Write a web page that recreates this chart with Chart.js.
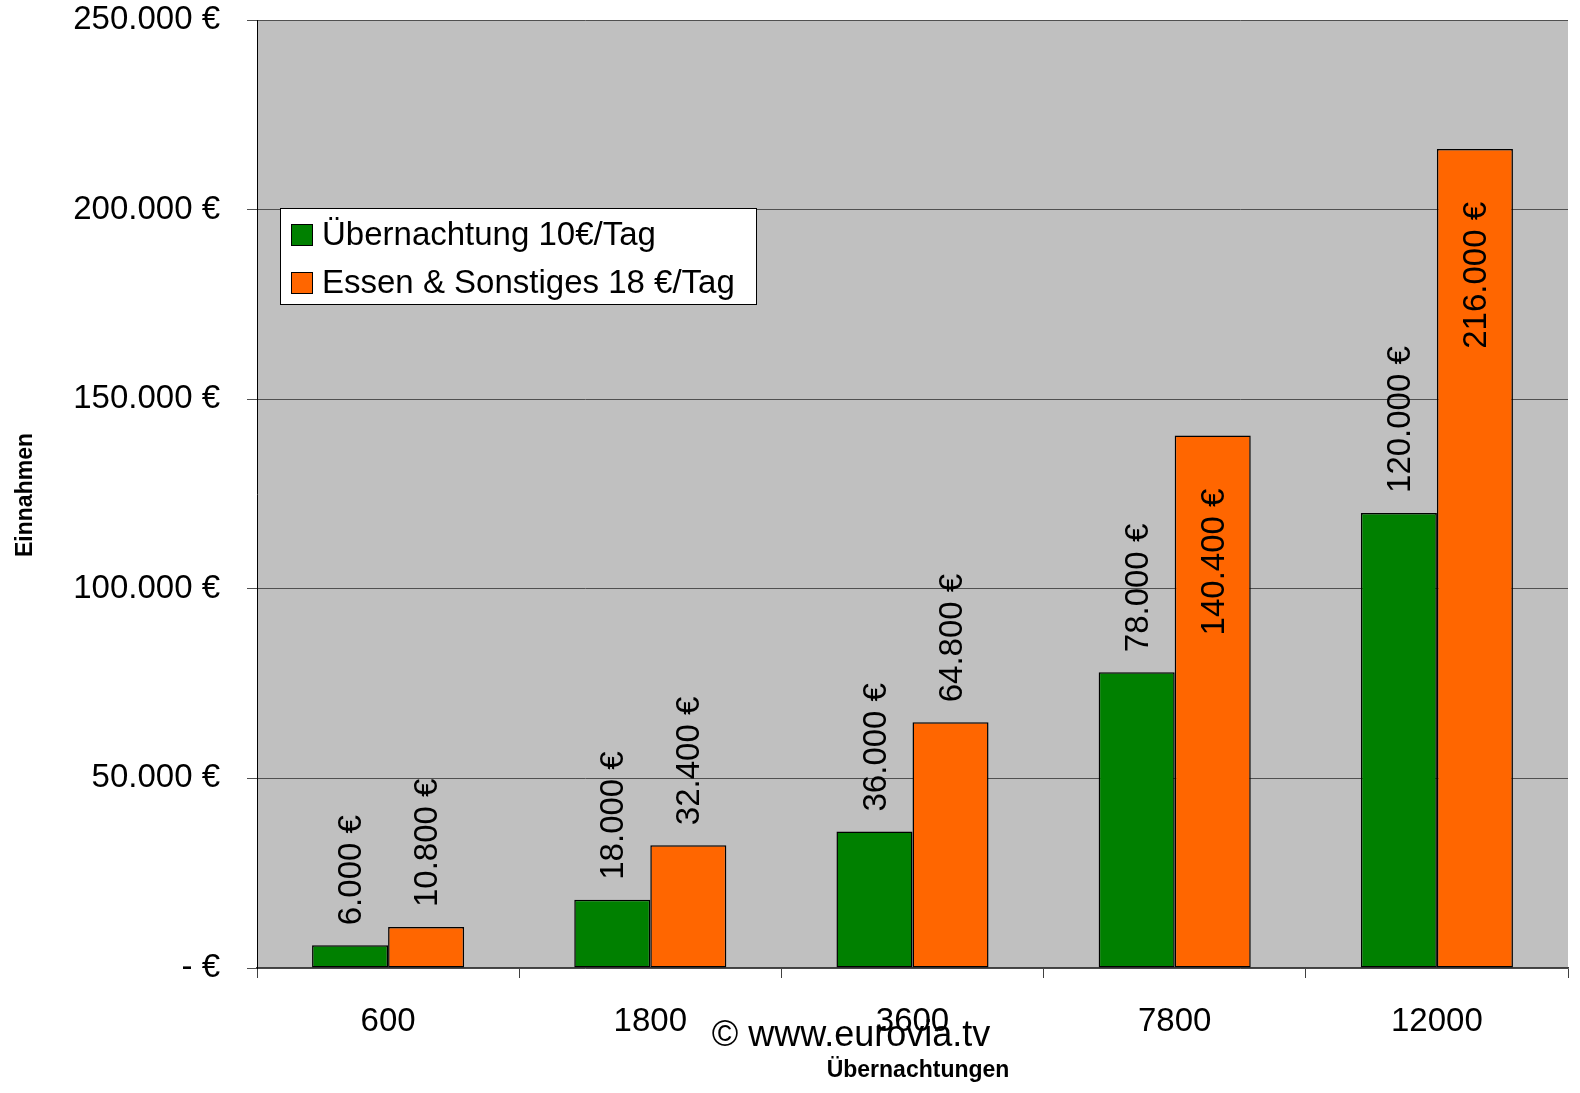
<!DOCTYPE html>
<html>
<head>
<meta charset="utf-8">
<script src="https://cdn.jsdelivr.net/npm/chart.js@4"></script>
<style>
  body { margin: 0; background: #fff; }
</style>
</head>
<body>
<canvas id="revChart" width="1580" height="1093"></canvas>
<script>
const categories = ["600", "1800", "3600", "7800", "12000"];
const uebernachtung = [6000, 18000, 36000, 78000, 120000];
const essen = [10800, 32400, 64800, 140400, 216000];
const yTicks = [0, 50000, 100000, 150000, 200000, 250000];
// labels that Excel put inside the bar: [dataset, index]
const insideLabels = [[1, 3], [1, 4]];

const FONT = "'Liberation Sans', Arial, sans-serif";

function euro(v) {
    if (v === 0) return "- €";
    return String(v).replace(/\B(?=(\d{3})+(?!\d))/g, ".") + " €";
}

const plotBg = {
    id: "plotBg",
    beforeDraw(chart) {
        const a = chart.chartArea, ctx = chart.ctx;
        ctx.save();
        ctx.fillStyle = "#C0C0C0";
        ctx.fillRect(a.left, a.top, a.right - a.left, a.bottom - a.top);
        ctx.restore();
    }
};

const extras = {
    id: "extras",
    afterDraw(chart) {
        const ctx = chart.ctx;
        ctx.save();
        // value labels
        ctx.fillStyle = "#000";
        ctx.font = "33px " + FONT;
        ctx.textBaseline = "middle";
        chart.data.datasets.forEach((ds, di) => {
            chart.getDatasetMeta(di).data.forEach((bar, i) => {
                const inside = insideLabels.some(p => p[0] === di && p[1] === i);
                ctx.save();
                ctx.translate(bar.x + 2, inside ? bar.y + 53 : bar.y - 20);
                ctx.rotate(-Math.PI / 2);
                ctx.textAlign = inside ? "right" : "left";
                ctx.fillText(euro(ds.data[i]), 0, 0);
                ctx.restore();
            });
        });

        // legend
        const lx = 280, ly = 208, lw = 476, lh = 96;
        ctx.fillStyle = "#fff";
        ctx.fillRect(lx, ly, lw, lh);
        ctx.strokeStyle = "#000";
        ctx.lineWidth = 1;
        ctx.strokeRect(lx + 0.5, ly + 0.5, lw, lh);
        ctx.textAlign = "left";
        chart.data.datasets.forEach((ds, di) => {
            const cy = ly + 27 + di * 48;
            ctx.fillStyle = ds.backgroundColor;
            ctx.fillRect(lx + 11, cy - 11, 22, 22);
            ctx.strokeRect(lx + 11.5, cy - 10.5, 21, 21);
            ctx.fillStyle = "#000";
            ctx.fillText(ds.label, lx + 42, cy + 1);
        });

        // axis titles
        ctx.font = "bold 23px " + FONT;
        ctx.textAlign = "center";
        ctx.fillText("Übernachtungen", 918, 1071);
        ctx.save();
        ctx.translate(26, 495);
        ctx.rotate(-Math.PI / 2);
        ctx.fillText("Einnahmen", 0, 0);
        ctx.restore();

        // watermark
        ctx.font = "36px " + FONT;
        ctx.fillText("© www.eurovia.tv", 851, 1036);
        ctx.restore();
    }
};

new Chart(document.getElementById("revChart"), {
    type: "bar",
    data: {
        labels: categories,
        datasets: [
            {
                label: "Übernachtung 10€/Tag",
                data: uebernachtung,
                backgroundColor: "#008000",
                borderColor: "#000",
                borderWidth: 1.5,
                borderSkipped: false
            },
            {
                label: "Essen & Sonstiges 18 €/Tag",
                data: essen,
                backgroundColor: "#FF6600",
                borderColor: "#000",
                borderWidth: 1.5,
                borderSkipped: false
            }
        ]
    },
    options: {
        responsive: false,
        animation: false,
        devicePixelRatio: 1,
        layout: { padding: { top: 20, right: 12, left: 0, bottom: 0 } },
        datasets: { bar: { categoryPercentage: 0.58, barPercentage: 1 } },
        plugins: { legend: { display: false }, tooltip: { enabled: false } },
        scales: {
            x: {
                afterFit(s) { s.height = 125; s.paddingLeft = 0; s.paddingRight = 0; },
                grid: { offset: true, drawOnChartArea: false, tickLength: 10, color: "#404040" },
                border: { color: "#404040", width: 1.5 },
                ticks: { color: "#000", font: { family: FONT, size: 33 }, padding: 24 }
            },
            y: {
                min: 0,
                max: 250000,
                afterFit(s) { s.width = 257; s.paddingTop = 0; s.paddingBottom = 0; },
                afterBuildTicks(s) { s.ticks = yTicks.map(v => ({ value: v })); },
                grid: { color: "#505050", tickLength: 10, tickColor: "#505050" },
                border: { color: "#000", width: 1 },
                ticks: {
                    color: "#000",
                    font: { family: FONT, size: 33 },
                    padding: 27,
                    callback: v => euro(v)
                }
            }
        }
    },
    plugins: [plotBg, extras]
});
</script>
</body>
</html>
